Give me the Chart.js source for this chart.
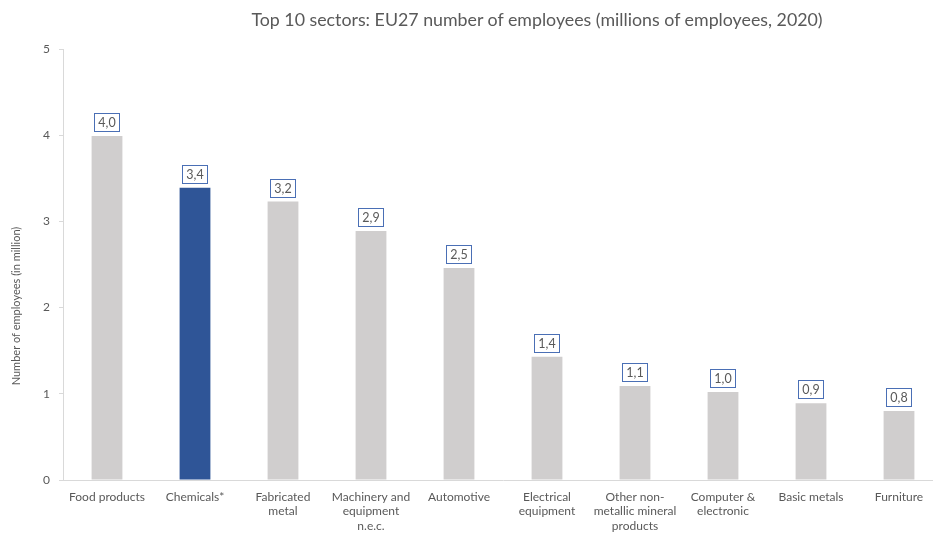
<!DOCTYPE html>
<html>
<head>
<meta charset="utf-8">
<script src="https://cdn.jsdelivr.net/npm/chart.js@4.4.1/dist/chart.umd.min.js"></script>
<style>
  html, body { margin:0; padding:0; background:#fff; overflow:hidden; }
  #wrap { position:relative; width:943px; height:533px; }
  #title {
    position:absolute; top:8px; left:237px; width:600px; text-align:center;
    font-family:Lato, "Open Sans", sans-serif; font-size:17.8px; color:#595959;
  }
</style>
</head>
<body>
<div id="wrap">
  <div id="title">Top 10 sectors: EU27 number of employees (millions of employees, 2020)</div>
  <canvas id="chart" width="943" height="533"></canvas>
</div>
<script>
// ===== DATA =====
const sectors = [
  "Food products", "Chemicals*", ["Fabricated", "metal"], ["Machinery and", "equipment", "n.e.c."],
  "Automotive", ["Electrical", "equipment"], ["Other non-", "metallic mineral", "products"],
  ["Computer &", "electronic"], "Basic metals", "Furniture"
];
const employees = [3.99, 3.39, 3.23, 2.89, 2.46, 1.43, 1.09, 1.02, 0.89, 0.80];
const valueLabels = ["4,0", "3,4", "3,2", "2,9", "2,5", "1,4", "1,1", "1,0", "0,9", "0,8"];
const yTicks = [0, 1, 2, 3, 4, 5];

const GREY = "#d0cece";
const BLUE = "#2f5597";
const TEXT = "#595959";
const AXIS = "#d9d9d9";
const FONT = "Lato, 'Open Sans', sans-serif";

// ===== LABEL BOXES + AXIS TITLE =====
const boxLabels = {
  id: "boxLabels",
  afterDatasetsDraw(chart){
    const ctx = chart.ctx;
    const meta = chart.getDatasetMeta(0);
    ctx.save();
    ctx.font = "12.5px " + FONT;
    ctx.textAlign = "center";
    ctx.textBaseline = "middle";
    meta.data.forEach((bar, i)=>{
      const txt = valueLabels[i];
      const w = ctx.measureText(txt).width + 8;
      const h = 18;
      const x = bar.x - w/2;
      const y = bar.y - 5 - h;
      ctx.fillStyle = "#fff";
      ctx.fillRect(x, y, w, h);
      ctx.strokeStyle = "#4a6fb5";
      ctx.lineWidth = 1;
      ctx.strokeRect(Math.round(x)+0.5, Math.round(y)+0.5, Math.round(w), h);
      ctx.fillStyle = TEXT;
      ctx.fillText(txt, bar.x, y + h/2 + 1);
    });

    // y axis title
    ctx.translate(16, 306);
    ctx.rotate(-Math.PI/2);
    ctx.font = "11px " + FONT;
    ctx.fillText("Number of employees (in million)", 0, 0);
    ctx.restore();
  }
};

new Chart(document.getElementById("chart"), {
  type: "bar",
  data: {
    labels: sectors,
    datasets: [{
      data: employees,
      backgroundColor: employees.map((_, i)=> i === 1 ? BLUE : GREY),
      barPercentage: 0.7,
      categoryPercentage: 0.5
    }]
  },
  options: {
    responsive: false,
    animation: false,
    layout: { padding: { top: 49, left: 0, right: 0, bottom: 0 } },
    plugins: {
      legend: { display: false },
      tooltip: { enabled: false }
    },
    scales: {
      x: {
        grid: { display: true, drawOnChartArea: false, drawTicks: false },
        border: { color: AXIS },
        ticks: {
          color: TEXT, font: { family: FONT, size: 12 }, padding: 10,
          maxRotation: 0, autoSkip: false
        },
        afterFit: (s)=>{ s.height = 53; }
      },
      y: {
        min: 0, max: 5,
        afterBuildTicks: (s)=>{ s.ticks = yTicks.map(v=>({value: v})); },
        grid: { drawOnChartArea: false, drawTicks: true, tickLength: 4, color: AXIS },
        border: { color: AXIS },
        ticks: { color: TEXT, font: { family: FONT, size: 12 }, padding: 9 },
        afterFit: (s)=>{ s.width = 63; }
      }
    }
  },
  plugins: [boxLabels]
});
</script>
</body>
</html>
